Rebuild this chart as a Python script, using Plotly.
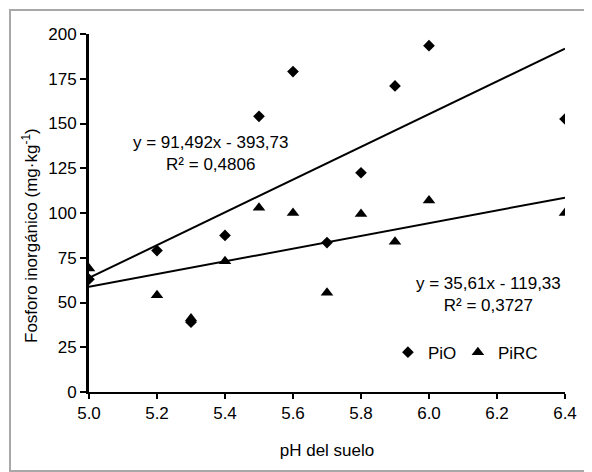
import plotly.graph_objects as go

ph = [5.0, 5.2, 5.3, 5.4, 5.5, 5.6, 5.7, 5.8, 5.9, 6.0, 6.4]
pio = [63, 79, 39, 87.5, 154, 179, 83.5, 122.5, 171, 193.5, 152.5]
pirc = [69, 54, 41, 73, 103, 100, 55.5, 99.5, 84, 107, 100]

pio_slope, pio_intercept = 91.492, -393.73
pirc_slope, pirc_intercept = 35.61, -119.33
pio_eq = "y = 91,492x - 393,73<br>R² = 0,4806"
pirc_eq = "y = 35,61x - 119,33<br>R² = 0,3727"

x_ticks = [5.0, 5.2, 5.4, 5.6, 5.8, 6.0, 6.2, 6.4]
y_ticks = [0, 25, 50, 75, 100, 125, 150, 175, 200]

FONT = "Liberation Sans, Arial, sans-serif"
FS = 17

# page body has an 8px default margin, so the figure is 584x464
W, H = 584, 464
L, R, T, B = 81, 27, 26, 80
PW, PH = W - L - R, H - T - B

fig = go.Figure()
xl = [min(ph), max(ph)]
fig.add_trace(go.Scatter(x=xl, y=[pio_slope * v + pio_intercept for v in xl], mode="lines",
                         line=dict(color="black", width=2), showlegend=False, hoverinfo="skip"))
fig.add_trace(go.Scatter(x=xl, y=[pirc_slope * v + pirc_intercept for v in xl], mode="lines",
                         line=dict(color="black", width=2), showlegend=False, hoverinfo="skip"))
fig.add_trace(go.Scatter(x=ph, y=pio, mode="markers", name="PiO", legend="legend",
                         marker=dict(symbol="diamond", size=9, color="black")))
fig.add_trace(go.Scatter(x=ph, y=pirc, mode="markers", name="PiRC", legend="legend2",
                         marker=dict(symbol="triangle-up", size=11, color="black")))

fig.add_annotation(x=5.356, y=133.5, text=pio_eq, showarrow=False, align="center",
                   font=dict(size=FS, color="black", family=FONT))
fig.add_annotation(x=6.174, y=54.5, text=pirc_eq, showarrow=False, align="center",
                   font=dict(size=FS, color="black", family=FONT))

# y axis title (drawn slightly below the plot centre, as in the reference)
fig.add_annotation(xref="paper", yref="paper", x=(22 - L) / PW, y=1 - (228 - T) / PH,
                   text="Fosforo inorgánico (mg·kg<sup>-1</sup>)", textangle=-90,
                   showarrow=False, xanchor="center", yanchor="middle",
                   font=dict(size=FS, color="black", family=FONT))

# outer chart border
off = 2
fig.add_shape(type="rect", xref="paper", yref="paper",
              x0=(off - L) / PW, x1=(W - 1 - L) / PW,
              y0=-(B - 1) / PH, y1=1 + (T - off) / PH,
              line=dict(color="#a8a8a8", width=2), fillcolor="rgba(0,0,0,0)")

leg = dict(orientation="h", y=0.11, xanchor="left", yanchor="middle",
           bgcolor="rgba(0,0,0,0)", font=dict(size=FS, color="black", family=FONT),
           itemwidth=30)

fig.update_layout(
    width=W, height=H,
    margin=dict(l=L, r=R, t=T, b=B),
    paper_bgcolor="white", plot_bgcolor="white",
    font=dict(family=FONT, size=FS, color="black"),
    legend=dict(leg, x=0.628),
    legend2=dict(leg, x=0.775),
    xaxis=dict(range=[5.0, 6.4], tickvals=x_ticks, tickformat=".1f",
               showgrid=False, zeroline=False, showline=True, linecolor="black", linewidth=2,
               ticks="outside", ticklen=5, tickwidth=2, tickcolor="black",
               title=dict(text="pH del suelo", standoff=22, font=dict(size=FS))),
    yaxis=dict(range=[0, 200], tickvals=y_ticks,
               showgrid=False, zeroline=False, showline=True, linecolor="black", linewidth=3,
               ticks="outside", ticklen=6, tickwidth=2, tickcolor="black"),
)

fig.write_html("out.html")
